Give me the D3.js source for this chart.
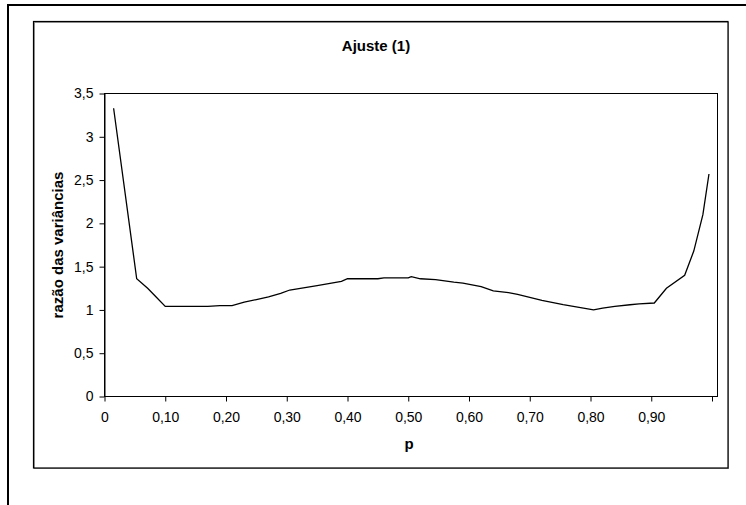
<!DOCTYPE html>
<html>
<head>
<meta charset="utf-8">
<script src="https://cdn.jsdelivr.net/npm/d3@7"></script>
<style>
  body { margin: 0; background: #fff; }
  svg { display: block; font-family: "Liberation Sans", Arial, sans-serif; }
</style>
</head>
<body>
<div id="chart-div"></div>
<script>
// Script globals
const CHART_WIDTH = 746
const CHART_HEIGHT = 505

// chart data
const pValues = [0.015, 0.053, 0.071, 0.085, 0.10, 0.15, 0.17, 0.19, 0.21, 0.23, 0.25, 0.27, 0.29, 0.305,
  0.35, 0.39, 0.40, 0.45, 0.46, 0.50, 0.505, 0.52, 0.545, 0.575, 0.59, 0.62, 0.64, 0.665, 0.68, 0.72,
  0.755, 0.805, 0.82, 0.84, 0.865, 0.88, 0.905, 0.925, 0.955, 0.97, 0.985, 0.995]
const ratioValues = [3.33, 1.36, 1.25, 1.15, 1.04, 1.04, 1.04, 1.05, 1.05, 1.09, 1.12, 1.15, 1.19, 1.23,
  1.28, 1.33, 1.36, 1.36, 1.37, 1.37, 1.385, 1.36, 1.35, 1.32, 1.31, 1.27, 1.22, 1.20, 1.18, 1.11,
  1.06, 1.00, 1.02, 1.04, 1.06, 1.07, 1.08, 1.25, 1.40, 1.68, 2.10, 2.57]
const xTicks = [0, 0.1, 0.2, 0.3, 0.4, 0.5, 0.6, 0.7, 0.8, 0.9, 1.0]
const xTickLabels = ["0", "0,10", "0,20", "0,30", "0,40", "0,50", "0,60", "0,70", "0,80", "0,90", ""]
const yTicks = [0, 0.5, 1, 1.5, 2, 2.5, 3, 3.5]
const yTickLabels = ["0", "0,5", "1", "1,5", "2", "2,5", "3", "3,5"]

const chartTitle = "Ajuste (1)"
const xTitle = "p"
const yTitle = "razão das variâncias"

init();

function init () {
  const svg = d3.select("#chart-div").append("svg")
    .attr("width", CHART_WIDTH)
    .attr("height", CHART_HEIGHT)

  // outer frame (only top and left edges are visible)
  svg.append("path")
    .attr("d", `M8,${CHART_HEIGHT} L8,5 L${CHART_WIDTH},5`)
    .attr("fill", "none")
    .attr("stroke", "#000")
    .attr("stroke-width", 2)

  // chart area box with a light shadow
  svg.append("rect")
    .attr("x", 34.5).attr("y", 22.5).attr("width", 694).attr("height", 446)
    .attr("fill", "none").attr("stroke", "#999").attr("stroke-width", 1)
  svg.append("rect")
    .attr("x", 33.5).attr("y", 21.5).attr("width", 694.5).attr("height", 446.5)
    .attr("fill", "none").attr("stroke", "#000").attr("stroke-width", 1.2)

  const data = pValues.map((p, i) => ({ p: p, r: ratioValues[i] }))
  drawPlot(svg, data)
}

function drawPlot (svg, data) {
  const marginLeft = 104.5
  const marginRight = 712
  const plotRight = 717.5
  const marginTop = 93.5
  const marginBottom = 396.5

  const x = d3.scaleLinear().domain([0, 1]).range([marginLeft, marginRight])
  const y = d3.scaleLinear().domain([0, 3.5]).range([marginBottom, marginTop])

  // plot area border
  svg.append("rect")
    .attr("x", marginLeft).attr("y", marginTop)
    .attr("width", plotRight - marginLeft).attr("height", marginBottom - marginTop)
    .attr("fill", "none").attr("stroke", "#000").attr("stroke-width", 1)

  // x axis
  svg.append("g")
    .attr("transform", `translate(0,${marginBottom})`)
    .call(d3.axisBottom(x).tickValues(xTicks)
      .tickFormat((d, i) => xTickLabels[i])
      .tickSize(5).tickPadding(11).tickSizeOuter(0))
    .call(g => g.select(".domain").attr("d", `M${marginLeft},0H${plotRight}`))
    .call(g => g.selectAll("text").attr("font-size", 14).attr("font-family", "Liberation Sans, Arial, sans-serif").attr("fill", "#000"))

  // y axis
  svg.append("g")
    .attr("transform", `translate(${marginLeft},0)`)
    .call(d3.axisLeft(y).tickValues(yTicks)
      .tickFormat((d, i) => yTickLabels[i])
      .tickSize(5).tickPadding(6).tickSizeOuter(0))
    .call(g => g.selectAll("text").attr("font-size", 14).attr("font-family", "Liberation Sans, Arial, sans-serif").attr("fill", "#000"))

  // the line
  const line = d3.line()
    .x(d => x(d.p))
    .y(d => y(d.r))

  svg.append("path")
    .datum(data)
    .attr("d", line)
    .attr("fill", "none")
    .attr("stroke", "#000")
    .attr("stroke-width", 1.3)

  // titles
  svg.append("text")
    .attr("x", 376).attr("y", 51)
    .attr("text-anchor", "middle")
    .attr("font-size", 15).attr("font-weight", "bold")
    .text(chartTitle)

  svg.append("text")
    .attr("x", 409).attr("y", 449)
    .attr("text-anchor", "middle")
    .attr("font-size", 15).attr("font-weight", "bold")
    .text(xTitle)

  svg.append("text")
    .attr("transform", `translate(63,${(marginTop + marginBottom) / 2}) rotate(-90)`)
    .attr("text-anchor", "middle")
    .attr("font-size", 15).attr("font-weight", "bold")
    .text(yTitle)
}
</script>
</body>
</html>
